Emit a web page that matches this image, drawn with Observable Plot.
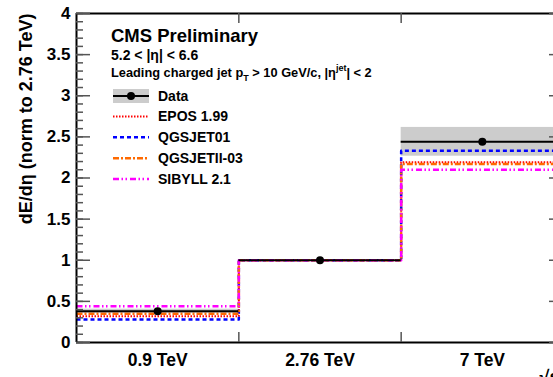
<!DOCTYPE html>
<html>
<head>
<meta charset="utf-8">
<script src="https://cdn.jsdelivr.net/npm/d3@7"></script>
<script src="https://cdn.jsdelivr.net/npm/@observablehq/plot@0.6"></script>
<style>
  html, body { margin: 0; padding: 0; background: white; overflow: hidden; }
  #chart { width: 553px; height: 377px; }
</style>
</head>
<body>
<div id="chart"></div>
<script>
// Collision energies (one bin each)
const energies = ["0.9 TeV", "2.76 TeV", "7 TeV"];

// Measured dE/deta, normalised to 2.76 TeV, with systematic band
const dataValues = [0.38, 1.0, 2.44];
const sysLow = [0.355, 1.0, 2.265];
const sysHigh = [0.405, 1.0, 2.615];

// Model predictions
const eposValues = [0.32, 1.0, 2.19];
const qgsjet01Values = [0.28, 1.0, 2.33];
const qgsjetIIValues = [0.35, 1.0, 2.17];
const sibyllValues = [0.44, 1.0, 2.10];

const modelNames = ["EPOS 1.99", "QGSJET01", "QGSJETII-03", "SIBYLL 2.1"];
const modelColors = ["#ff0000", "#0000ff", "#ff6a00", "#ff00ff"];
const modelDashes = ["1.5 1.5", "4 3", "6 2 2 2", "6 2.5 1.5 2.5 1.5 3"];
const modelWidths = [2, 2.5, 2.5, 2.5];

// Axis ticks
const yMajor = [0, 0.5, 1, 1.5, 2, 2.5, 3, 3.5, 4];
const yMajorLabels = ["0", "0.5", "1", "1.5", "2", "2.5", "3", "3.5", "4"];
const yMinor = d3.range(0, 41).map(k => k / 10);
const binEdges = [1, 2];

const FONT = "'Liberation Sans', Arial, Helvetica, sans-serif";

const bins = energies.map((name, i) => ({
  i, name, value: dataValues[i], lo: sysLow[i], hi: sysHigh[i]
}));

// Step-histogram vertices for a model: left edge of each bin, plus the closing edge
const modelSeries = [eposValues, qgsjet01Values, qgsjetIIValues, sibyllValues];
const stepPoints = vals => [...vals.map((v, i) => ({x: i, y: v})), {x: vals.length, y: vals[vals.length - 1]}];

const marginLeft = 76, marginRight = -10, marginTop = 13, marginBottom = 35;
const W = 553, H = 377;
const frameW = W - marginLeft - marginRight;
const frameH = H - marginTop - marginBottom;

const marks = [
  // systematic band of the measurement
  Plot.rect(bins, {x1: d => d.i, x2: d => d.i + 1, y1: "lo", y2: "hi", fill: "#cccccc"}),
  // models as step histograms
  ...modelSeries.map((vals, k) =>
    Plot.line(stepPoints(vals), {
      x: "x", y: "y", curve: "step-after",
      stroke: modelColors[k], strokeWidth: modelWidths[k],
      strokeDasharray: modelDashes[k], strokeLinecap: "butt"
    })
  ),
  // data: horizontal bar over the bin and marker
  Plot.ruleY(bins, {y: "value", x1: d => d.i, x2: d => d.i + 1, stroke: "black", strokeWidth: 2}),
  Plot.dot(bins, {x: d => d.i + 0.5, y: "value", r: 4, fill: "black", stroke: "none"}),
  // frame
  Plot.ruleY([0], {stroke: "black", strokeWidth: 2}),
  Plot.ruleY([4], {stroke: "black", strokeWidth: 2}),
  Plot.ruleX([0], {stroke: "black", strokeWidth: 2}),
  Plot.ruleX([3], {stroke: "black", strokeWidth: 2}),
  // y ticks, left and right
  Plot.tickY(yMajor, {y: d => d, insetRight: frameW - 14, stroke: "#555", strokeWidth: 1.5}),
  Plot.tickY(yMinor, {y: d => d, insetRight: frameW - 7, stroke: "#555", strokeWidth: 1.5}),
  Plot.tickY(yMajor, {y: d => d, insetLeft: frameW - 14, stroke: "#555", strokeWidth: 1.5}),
  Plot.tickY(yMinor, {y: d => d, insetLeft: frameW - 7, stroke: "#555", strokeWidth: 1.5}),
  // x ticks at bin edges, bottom and top
  Plot.tickX(binEdges, {x: d => d, insetTop: frameH - 10, stroke: "#555", strokeWidth: 1.5}),
  Plot.tickX(binEdges, {x: d => d, insetBottom: frameH - 10, stroke: "#555", strokeWidth: 1.5}),
  // y tick labels
  Plot.text(yMajor, {
    y: d => d, text: (d, i) => yMajorLabels[i], frameAnchor: "left", textAnchor: "end",
    lineAnchor: "middle", dx: -6, fontSize: 17, fontWeight: "bold", fill: "black"
  }),
  // x category labels
  Plot.text(bins, {
    x: d => d.i + 0.5, text: "name", frameAnchor: "bottom", lineAnchor: "bottom",
    dy: 23, fontSize: 17.5, fontWeight: "bold", fill: "black"
  }),
  // y axis title
  Plot.text(["dE/dη (norm to 2.76 TeV)"], {
    frameAnchor: "top-left", rotate: -90, textAnchor: "end", lineAnchor: "bottom",
    dx: -45, dy: 0, fontSize: 18, fontWeight: "bold", fill: "black"
  }),
  // x axis title (at the end of the axis)
  Plot.text(["√s"], {
    frameAnchor: "bottom-right", textAnchor: "start", lineAnchor: "bottom",
    dx: -24, dy: 40, fontSize: 18, fontWeight: "bold", fill: "black"
  })
];

const chart = Plot.plot({
  width: W, height: H,
  marginLeft, marginRight, marginTop, marginBottom,
  x: {domain: [0, 3], axis: null},
  y: {domain: [0, 4], axis: null},
  style: {fontFamily: FONT, background: "white", overflow: "hidden"},
  marks
});
document.getElementById("chart").append(chart);

// Header text and legend box inside the frame
const svg = d3.select(chart);
const g = svg.append("g")
  .attr("font-family", FONT).attr("font-weight", "bold")
  .attr("fill", "black").attr("text-anchor", "start");

g.append("text").attr("x", 111).attr("y", 41.5).attr("font-size", 18.5).text("CMS Preliminary");
g.append("text").attr("x", 111).attr("y", 60).attr("font-size", 14).text("5.2 < |η| < 6.6");
const lead = g.append("text").attr("x", 111).attr("y", 77).attr("font-size", 12.8);
lead.append("tspan").text("Leading charged jet p");
lead.append("tspan").attr("font-size", 9).attr("dy", 4).text("T");
lead.append("tspan").attr("dy", -4).text(" > 10 GeV/c, |η");
lead.append("tspan").attr("font-size", 9).attr("dy", -6).text("jet");
lead.append("tspan").attr("dy", 6).text("| < 2");

const legX0 = 113, legX1 = 149, legText = 158;
const rowY = [96, 116.5, 137.3, 158.3, 179];

// Data entry
g.append("rect").attr("x", legX0).attr("y", 89).attr("width", legX1 - legX0).attr("height", 14).attr("fill", "#cccccc");
g.append("line").attr("x1", legX0).attr("x2", legX1).attr("y1", rowY[0]).attr("y2", rowY[0])
  .attr("stroke", "black").attr("stroke-width", 2);
g.append("circle").attr("cx", (legX0 + legX1) / 2).attr("cy", rowY[0]).attr("r", 4).attr("fill", "black");
g.append("text").attr("x", legText).attr("y", rowY[0]).attr("dy", "0.35em").attr("font-size", 14).text("Data");

// Model entries
modelNames.forEach((name, k) => {
  const y = rowY[k + 1];
  g.append("line").attr("x1", legX0).attr("x2", legX1).attr("y1", y).attr("y2", y)
    .attr("stroke", modelColors[k]).attr("stroke-width", modelWidths[k])
    .attr("stroke-dasharray", modelDashes[k]);
  g.append("text").attr("x", legText).attr("y", y).attr("dy", "0.35em").attr("font-size", 14).text(name);
});
</script>
</body>
</html>
